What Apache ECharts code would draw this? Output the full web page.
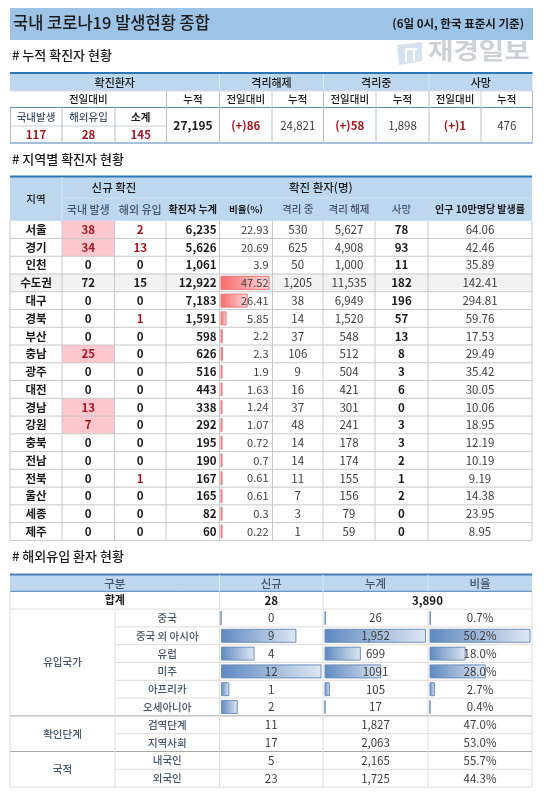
<!doctype html>
<html lang="ko">
<head>
    <meta charset="UTF-8">
    <title>국내 코로나19 발생현황 종합</title>
    <script src="https://cdn.jsdelivr.net/npm/echarts@6/dist/echarts.min.js"></script>
    <style>
        html, body { margin: 0; padding: 0; background: #fff; }
        #main { width: 548px; height: 797px; }
    </style>
</head>
<body>
<div id="main"></div>
<script type="text/javascript">
    // 누적 확진자 현황
    var summaryNew = [117, 28, 145];
    var summaryTotal = 27195;
    var releasedDiff = 86, releasedTotal = 24821;
    var isolatedDiff = 58, isolatedTotal = 1898;
    var deathDiff = 1, deathTotal = 476;

    // 지역별 확진자 현황
    var regions = ['서울', '경기', '인천', '수도권', '대구', '경북', '부산', '충남', '광주', '대전', '경남', '강원', '충북', '전남', '전북', '울산', '세종', '제주'];
    var domestic = [38, 34, 0, 72, 0, 0, 0, 25, 0, 0, 13, 7, 0, 0, 0, 0, 0, 0];
    var imported = [2, 13, 0, 15, 0, 1, 0, 0, 0, 0, 0, 0, 0, 0, 1, 0, 0, 0];
    var cumulative = [6235, 5626, 1061, 12922, 7183, 1591, 598, 626, 516, 443, 338, 292, 195, 190, 167, 165, 82, 60];
    var shares = [22.93, 20.69, 3.9, 47.52, 26.41, 5.85, 2.2, 2.3, 1.9, 1.63, 1.24, 1.07, 0.72, 0.7, 0.61, 0.61, 0.3, 0.22];
    var isolating = [530, 625, 50, 1205, 38, 14, 37, 106, 9, 16, 37, 48, 14, 14, 11, 7, 3, 1];
    var released = [5627, 4908, 1000, 11535, 6949, 1520, 548, 512, 504, 421, 301, 241, 178, 174, 155, 156, 79, 59];
    var deaths = [78, 93, 11, 182, 196, 57, 13, 8, 3, 6, 0, 3, 3, 2, 1, 2, 0, 0];
    var per100k = [64.06, 42.46, 35.89, 142.41, 294.81, 59.76, 17.53, 29.49, 35.42, 30.05, 10.06, 18.95, 12.19, 10.19, 9.19, 14.38, 23.95, 8.95];
    // 수도권 합계에 들어가는 시도는 막대 없음
    var noBarRegions = ['서울', '경기', '인천'];

    // 해외유입 환자 현황
    var originLabels = ['중국', '중국 외 아시아', '유럽', '미주', '아프리카', '오세아니아', '검역단계', '지역사회', '내국인', '외국인'];
    var originNew = [0, 9, 4, 12, 1, 2, 11, 17, 5, 23];
    var originTotal = [26, 1952, 699, 1091, 105, 17, 1827, 2063, 2165, 1725];
    var originTotalText = ['26', '1,952', '699', '1091', '105', '17', '1,827', '2,063', '2,165', '1,725'];
    var originRate = [0.7, 50.2, 18.0, 28.0, 2.7, 0.4, 47.0, 53.0, 55.7, 44.3];
    var importSum = [28, 3890];

    var FONT = '"Noto Sans CJK KR", "Noto Sans", sans-serif';
    var HEAD_BG = '#BDD7EE', LINE = '#C8C8C8', BLUE = '#2E75B6', BLUE2 = '#4A7EBB';
    var TXT = '#3C3C3C', DARK = '#1A1A1A', RED = '#A5141E', SUB = '#44546A';

    var t1X = [10, 62, 115, 166.5, 219.5, 272, 323.5, 376, 429, 481, 532.5];
    var t2X = [10, 62, 114.5, 166, 219.5, 272.5, 323, 375, 428, 532];
    var t3X = [10, 115, 219.5, 323, 428, 532];
    var t2Top = 220.7, t2Row = 17.76;
    var t3Top = 591.3, t3Row = 17.8;

    function comma(n) { return n.toLocaleString('en-US'); }

    var fills = [], rules = [], texts = [];
    function fill(x0, y0, x1, y1, color) { fills.push([x0, y0, x1, y1, color]); }
    function rule(x0, y0, x1, y1, color, w) { rules.push([x0, y0, x1, y1, color, w || 1]); }
    // weight: 0 보통, 1 bold, 2 medium / align: 0 가운데, 1 오른쪽, -1 왼쪽
    function text(x0, y0, x1, y1, str, size, color, weight, align) {
        texts.push([x0, y0, x1, y1, String(str), size, color, Number(weight || 0), align || 0]);
    }

    // 제목
    fill(10, 8, 533, 40, '#9DC3E6');
    text(13, 6.5, 300, 38.5, '국내 코로나19 발생현황 종합', 16.5, DARK, 2, -1);
    text(300, 8, 524, 40, '(6일 0시, 한국 표준시 기준)', 11.5, DARK, 1, 1);
    text(12, 45.5, 200, 65.5, '# 누적 확진자 현황', 13, DARK, 2, -1);
    text(12, 149.5, 200, 169.5, '# 지역별 확진자 현황', 13, DARK, 2, -1);
    text(12, 546.5, 200, 566.5, '# 해외유입 환자 현황', 13, DARK, 2, -1);

    // 누적 표
    var r1 = [74, 91, 107.5, 126, 143];
    fill(t1X[0], r1[0], t1X[10], r1[1], HEAD_BG);
    rule(t1X[0], 73, t1X[10], 73, BLUE, 2);
    rule(t1X[0], r1[2], t1X[10], r1[2], '#5B8DB8', 1);
    rule(t1X[0], r1[4], t1X[10], r1[4], '#4A7EBB', 1);
    rule(t1X[0], r1[1], t1X[10], r1[1], '#D5DEE8', 1);
    rule(t1X[0], r1[3], t1X[3], r1[3], '#C8D0DA', 1);
    [4, 6, 8].forEach(function (c) { rule(t1X[c], r1[0], t1X[c], r1[1], '#DCE8F4', 1); });
    [1, 2].forEach(function (c) { rule(t1X[c], r1[2], t1X[c], r1[4], '#B4BECC', 1); });
    [3, 4, 6, 8].forEach(function (c) { rule(t1X[c], r1[1], t1X[c], r1[4], '#B4BECC', 1); });
    [5, 7, 9].forEach(function (c) {
        rule(t1X[c], r1[1], t1X[c], r1[2], '#C8CED6', 1);
        rule(t1X[c], r1[2], t1X[c], r1[4], '#B4BECC', 1);
    });
    rule(t1X[0] + 0.5, r1[2], t1X[0] + 0.5, r1[4], '#B4BECC', 1);
    rule(t1X[10], r1[1], t1X[10], r1[4], '#B4BECC', 1);
    text(t1X[0], r1[0], t1X[4], r1[1], '확진환자', 11, DARK, 2);
    text(t1X[4], r1[0], t1X[6], r1[1], '격리해제', 11, DARK, 2);
    text(t1X[6], r1[0], t1X[8], r1[1], '격리중', 11, DARK, 2);
    text(t1X[8], r1[0], t1X[10], r1[1], '사망', 11, DARK, 2);
    text(t1X[0], r1[1], t1X[3], r1[2], '전일대비', 10.5, DARK, 2);
    ['누적', '전일대비', '누적', '전일대비', '누적', '전일대비', '누적'].forEach(function (s, i) {
        text(t1X[3 + i], r1[1], t1X[4 + i], r1[2], s, 10.5, DARK, 2);
    });
    ['국내발생', '해외유입', '소계'].forEach(function (s, i) {
        text(t1X[i], r1[2], t1X[i + 1], r1[3], s, 10.5, i === 2 ? DARK : SUB, i === 2 ? 1 : 2);
        text(t1X[i], r1[3], t1X[i + 1], r1[4], summaryNew[i], 11.5, RED, 1);
    });
    text(t1X[3], r1[2], t1X[4], r1[4], comma(summaryTotal), 12, DARK, 1);
    text(t1X[4], r1[2], t1X[5], r1[4], '(+)' + releasedDiff, 11.5, RED, 1);
    text(t1X[5], r1[2], t1X[6], r1[4], comma(releasedTotal), 11.5, TXT);
    text(t1X[6], r1[2], t1X[7], r1[4], '(+)' + isolatedDiff, 11.5, RED, 1);
    text(t1X[7], r1[2], t1X[8], r1[4], comma(isolatedTotal), 11.5, TXT);
    text(t1X[8], r1[2], t1X[9], r1[4], '(+)' + deathDiff, 11.5, RED, 1);
    text(t1X[9], r1[2], t1X[10], r1[4], deathTotal, 11.5, TXT);

    // 지역별 표
    var t2Bottom = t2Top + t2Row * regions.length;
    fill(t2X[0], 177, t2X[9], t2Top, HEAD_BG);
    rule(t2X[0], 176.5, t2X[9], 176.5, BLUE, 2);
    rule(t2X[1], 198, t2X[9], 198, '#CFE0F0', 1);
    rule(t2X[1], 177, t2X[1], t2Top, '#DCE8F4', 1);
    text(t2X[0], 177, t2X[1], t2Top, '지역', 10.5, DARK, 2);
    text(t2X[1], 177, t2X[3], 198, '신규 확진', 11.5, DARK, 2);
    text(t2X[4], 177, t2X[8] - 6, 198, '확진 환자(명)', 11.5, DARK, 2);
    text(t2X[1], 198, t2X[2], t2Top, '국내 발생', 11, SUB, 2);
    text(t2X[2], 198, t2X[3], t2Top, '해외 유입', 11, SUB, 2);
    text(t2X[3], 198, t2X[4], t2Top, '확진자 누계', 10, DARK, 1);
    text(t2X[4], 198, t2X[5], t2Top, '비율(%)', 9.5, DARK, 1);
    text(t2X[5], 198, t2X[6], t2Top, '격리 중', 10.5, SUB, 2);
    text(t2X[6], 198, t2X[7], t2Top, '격리 해제', 10.5, SUB, 2);
    text(t2X[7], 198, t2X[8], t2Top, '사망', 10.5, SUB, 2);
    text(t2X[8], 198, t2X[9], t2Top, '인구 10만명당 발생률', 10, DARK, 1);
    regions.forEach(function (name, i) {
        var y0 = t2Top + i * t2Row, y1 = y0 + t2Row;
        if (name === '수도권') fill(t2X[0], y0, t2X[9], y1, '#F2F2F2');
        if (name !== '수도권' && domestic[i] > 0) fill(t2X[1], y0, t2X[2], y1, '#FFC7CE');
        rule(t2X[0], y1, t2X[9], y1, LINE, 1);
        text(t2X[0], y0, t2X[1], y1, name, 11.5, DARK, 1);
        var hot = name !== '수도권';
        text(t2X[1], y0, t2X[2], y1, domestic[i], 11.5, hot && domestic[i] > 0 ? RED : DARK, 1);
        text(t2X[2], y0, t2X[3], y1, imported[i], 11.5, hot && imported[i] > 0 ? RED : DARK, 1);
        text(t2X[3], y0, t2X[4] - 3, y1, comma(cumulative[i]), 11.5, DARK, 1, 1);
        text(t2X[4], y0, t2X[5] - 4, y1, shares[i], 11, TXT, 0, 1);
        text(t2X[5], y0, t2X[6], y1, comma(isolating[i]), 11.5, TXT);
        text(t2X[6], y0, t2X[7], y1, comma(released[i]), 11.5, TXT);
        text(t2X[7], y0, t2X[8], y1, deaths[i], 11.5, DARK, 1);
        text(t2X[8], y0, t2X[9], y1, per100k[i], 11.5, TXT);
    });
    t2X.forEach(function (x) { rule(x, t2Top, x, t2Bottom, LINE, 1); });

    // 해외유입 표
    var t3Rows = originLabels.length + 1;
    var t3Bottom = t3Top + t3Row * t3Rows;
    fill(t3X[0], 575, t3X[5], t3Top, HEAD_BG);
    rule(t3X[0], 574.5, t3X[5], 574.5, BLUE2, 2);
    rule(t3X[0], t3Top, t3X[5], t3Top, BLUE2, 1);
    [2, 3, 4].forEach(function (c) { rule(t3X[c], 575, t3X[c], t3Top, '#DCE8F4', 1); });
    text(t3X[0], 575, t3X[2], t3Top, '구분', 11.5, SUB, 2);
    text(t3X[2], 575, t3X[3], t3Top, '신규', 11.5, SUB, 2);
    text(t3X[3], 575, t3X[4], t3Top, '누계', 11.5, SUB, 2);
    text(t3X[4], 575, t3X[5], t3Top, '비율', 11.5, SUB, 2);
    text(t3X[0], t3Top, t3X[2], t3Top + t3Row, '합계', 11, DARK, 1);
    text(t3X[2], t3Top, t3X[3], t3Top + t3Row, importSum[0], 11.5, DARK, 1);
    text(t3X[3], t3Top, t3X[5], t3Top + t3Row, comma(importSum[1]), 11.5, DARK, 1);
    rule(t3X[0], t3Top + t3Row, t3X[5], t3Top + t3Row, '#DDDDDD', 1);
    originLabels.forEach(function (name, i) {
        var y0 = t3Top + (i + 1) * t3Row, y1 = y0 + t3Row;
        var heavy = i === 5 || i === 7;
        rule(heavy ? t3X[0] : t3X[1], y1, t3X[5], y1, heavy ? '#A8A8A8' : '#DDDDDD', 1);
        text(t3X[1], y0, t3X[2], y1, name, 10.5, SUB, 2);
        text(t3X[2], y0, t3X[3], y1, originNew[i], 11.5, TXT);
        text(t3X[3], y0, t3X[4], y1, originTotalText[i], 11.5, TXT);
        text(t3X[4], y0, t3X[5], y1, originRate[i].toFixed(1) + '%', 11.5, TXT);
    });
    rule(t3X[0], t3Bottom, t3X[1], t3Bottom, '#DDDDDD', 1);
    text(t3X[0], t3Top + t3Row, t3X[1], t3Top + 7 * t3Row, '유입국가', 10.5, SUB, 2);
    text(t3X[0], t3Top + 7 * t3Row, t3X[1], t3Top + 9 * t3Row, '확인단계', 10.5, SUB, 2);
    text(t3X[0], t3Top + 9 * t3Row, t3X[1], t3Bottom, '국적', 10.5, SUB, 2);
    t3X.forEach(function (x, c) {
        rule(x, c === 0 || c === 5 ? t3Top : t3Top + t3Row, x, t3Bottom, '#DDDDDD', 1);
    });
    rule(t3X[2], t3Top, t3X[2], t3Top + t3Row, '#DDDDDD', 1);
    rule(t3X[3], t3Top, t3X[3], t3Top + t3Row, '#DDDDDD', 1);

    // 표 칸/선/글자: 페이지 좌표축 위의 custom series
    function boxSeries(name, rows, z, itemFn) {
        return {
            name: name, type: 'custom', xAxisIndex: 0, yAxisIndex: 0, z: z, silent: true,
            clip: false, encode: { x: 0, y: 1 }, data: rows, animation: false,
            renderItem: itemFn
        };
    }
    function grad(from, to) {
        return new echarts.graphic.LinearGradient(0, 0, 1, 0, [{ offset: 0, color: from }, { offset: 1, color: to }]);
    }

    var WEIGHTS = ['', 'bold ', '500 '];
    var series = [
        boxSeries('fills', fills, 1, function (p, api) {
            var a = api.coord([api.value(0), api.value(1)]), b = api.coord([api.value(2), api.value(3)]);
            return { type: 'rect', shape: { x: a[0], y: a[1], width: b[0] - a[0], height: b[1] - a[1] }, style: { fill: api.value(4) } };
        }),
        boxSeries('rules', rules, 2, function (p, api) {
            var a = api.coord([api.value(0), api.value(1)]), b = api.coord([api.value(2), api.value(3)]);
            return { type: 'line', shape: { x1: a[0], y1: a[1], x2: b[0], y2: b[1] }, style: { stroke: api.value(4), lineWidth: api.value(5) } };
        }),
        boxSeries('texts', texts, 5, function (p, api) {
            var a = api.coord([api.value(0), api.value(1)]), b = api.coord([api.value(2), api.value(3)]);
            var al = api.value(8);
            return {
                type: 'text',
                style: {
                    x: al === 0 ? (a[0] + b[0]) / 2 : (al > 0 ? b[0] : a[0]),
                    y: (a[1] + b[1]) / 2,
                    text: api.value(4),
                    fill: api.value(6),
                    font: WEIGHTS[api.value(7)] + api.value(5) + 'px ' + FONT,
                    align: al === 0 ? 'center' : (al > 0 ? 'right' : 'left'),
                    verticalAlign: 'middle'
                }
            };
        })
    ];

    // 막대 칸: 격자마다 자기 value 축
    var grids = [{ left: 0, top: 0, width: 548, height: 797 }];
    var xAxes = [{ type: 'value', min: 0, max: 548, show: false, gridIndex: 0 }];
    var yAxes = [{ type: 'value', min: 0, max: 797, inverse: true, show: false, gridIndex: 0 }];
    function addBars(values, cats, left, width, top, height, max, from, to, border, barH, minLen) {
        var g = grids.length;
        grids.push({ left: left, top: top, width: width, height: height });
        xAxes.push({ type: 'value', min: 0, max: max, show: false, gridIndex: g });
        yAxes.push({ type: 'category', data: cats, inverse: true, show: false, gridIndex: g });
        series.push({
            type: 'bar', xAxisIndex: g, yAxisIndex: g, z: 3, silent: true, animation: false,
            data: values, barWidth: barH, barMinHeight: minLen,
            itemStyle: { color: grad(from, to), borderColor: border, borderWidth: 1 }
        });
    }
    var shareBars = shares.map(function (v, i) { return noBarRegions.indexOf(regions[i]) >= 0 ? null : v; });
    addBars(shareBars, regions, t2X[4] + 1, 49, t2Top, t2Row * regions.length, 47.52, '#F8696B', '#FCD9DA', '#E8787A', 14, 2);
    var barCats = originLabels.slice(0, 6);
    var barTop = t3Top + t3Row, barSpan = t3Row * 6;
    addBars(originNew.slice(0, 6), barCats, t3X[2] + 1.5, 100.5, barTop, barSpan, 12, '#5E88C0', '#DFE8F3', '#6F90BC', 14, 0);
    addBars(originTotal.slice(0, 6), barCats, t3X[3] + 1.5, 101.5, barTop, barSpan, 1952, '#5E88C0', '#DFE8F3', '#6F90BC', 14, 1);
    addBars(originRate.slice(0, 6), barCats, t3X[4] + 1.5, 101, barTop, barSpan, 50.2, '#5E88C0', '#DFE8F3', '#6F90BC', 14, 1);

    var chart = echarts.init(document.getElementById('main'));
    chart.setOption({
        backgroundColor: '#fff',
        animation: false,
        textStyle: { fontFamily: FONT },
        grid: grids,
        xAxis: xAxes,
        yAxis: yAxes,
        series: series,
        graphic: [
            { type: 'text', z: 0, x: 428, y: 39, scaleX: 1.2, style: { text: '재경일보', fill: '#CDD1D5', font: 'bold 23px ' + FONT } },
            { type: 'polygon', z: 0, shape: { points: [[397, 45], [422, 42], [422, 61], [399, 65]] }, style: { fill: '#D5E3F0' } },
            { type: 'rect', z: 0, shape: { x: 405, y: 49, width: 2, height: 13 }, style: { fill: '#fff' } },
            { type: 'rect', z: 0, shape: { x: 405, y: 48, width: 12, height: 2 }, style: { fill: '#fff' } },
            { type: 'rect', z: 0, shape: { x: 413, y: 50, width: 2, height: 11 }, style: { fill: '#fff' } }
        ]
    });
</script>
</body>
</html>
